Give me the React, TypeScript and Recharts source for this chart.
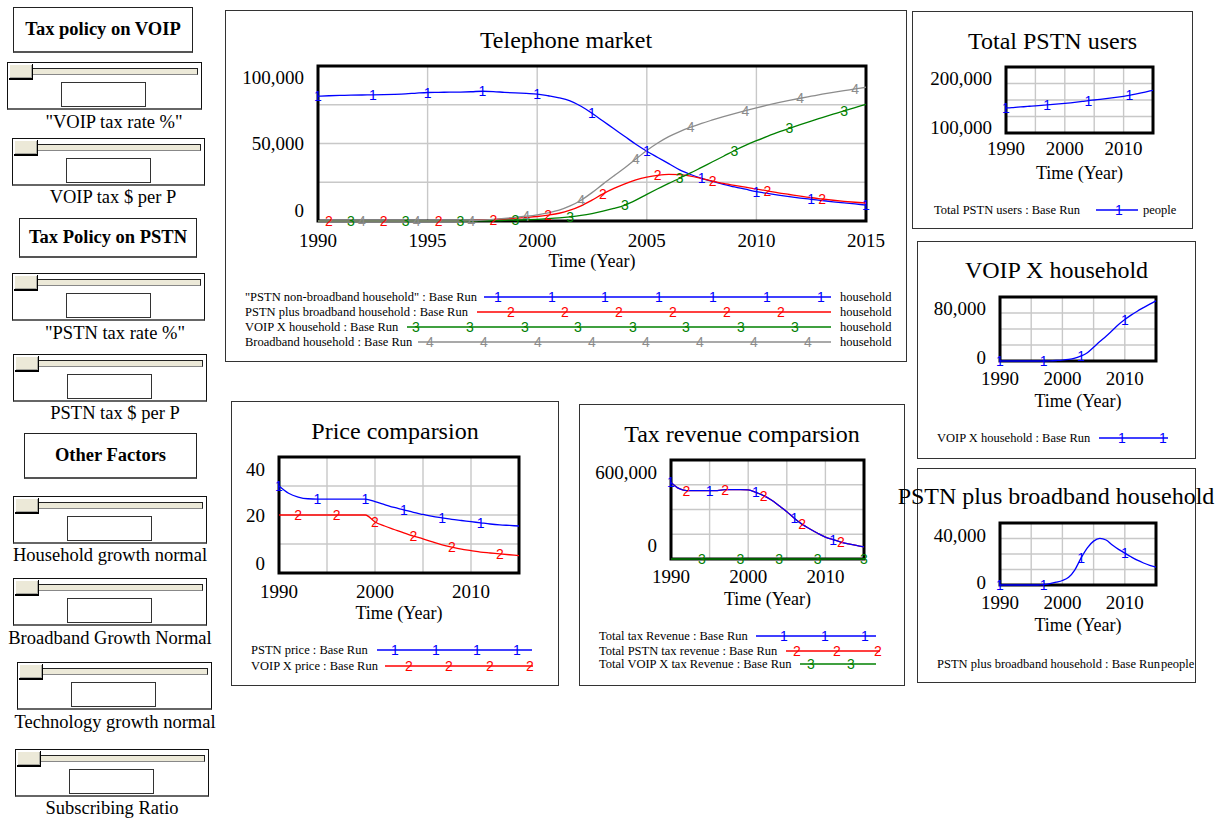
import React from "react";
import { CartesianGrid, Line, LineChart, ReferenceArea, XAxis, YAxis } from "recharts";

// time axes
const HALF_YEARS = [
  1990, 1990.5, 1991, 1991.5, 1992, 1992.5, 1993, 1993.5, 1994, 1994.5,
  1995, 1995.5, 1996, 1996.5, 1997, 1997.5, 1998, 1998.5, 1999, 1999.5,
  2000, 2000.5, 2001, 2001.5, 2002, 2002.5, 2003, 2003.5, 2004, 2004.5,
  2005, 2005.5, 2006, 2006.5, 2007, 2007.5, 2008, 2008.5, 2009, 2009.5,
  2010, 2010.5, 2011, 2011.5, 2012, 2012.5, 2013, 2013.5, 2014, 2014.5, 2015,
];
const YEARS = [
  1990, 1991, 1992, 1993, 1994, 1995, 1996, 1997, 1998, 1999, 2000, 2001, 2002,
  2003, 2004, 2005, 2006, 2007, 2008, 2009, 2010, 2011, 2012, 2013, 2014, 2015,
];

// Telephone market (half-year steps)
const PSTN_NON_BROADBAND = [
  80500, 80800, 81000, 81200, 81300, 81400, 81500, 81700, 82000, 82500,
  82900, 83000, 83100, 83200, 83400, 83700, 83500, 83000, 82600, 82300,
  81900, 80800, 79500, 77500, 74000, 69500, 64500, 59500, 54500, 49500,
  45000, 41000, 37000, 33000, 30000, 27500, 25500, 23700, 22000, 20500,
  19000, 17800, 16700, 15700, 14800, 14000, 13200, 12400, 11700, 11000, 10300,
];
const PSTN_PLUS_BROADBAND = [
  0, 0, 0, 0, 0, 0, 0, 0, 0, 0,
  0, 0, 0, 0, 200, 500, 900, 1300, 1800, 2300,
  2900, 3800, 5000, 7000, 9800, 13500, 17500, 21000, 24000, 26500,
  28300, 29500, 30100, 29900, 29000, 27400, 25800, 24300, 23000, 21800,
  20600, 19500, 18200, 17100, 16000, 15000, 14200, 13400, 12700, 12100, 11600,
];
const VOIP_HOUSEHOLD_HALF = [
  0, 0, 0, 0, 0, 0, 0, 0, 0, 0,
  0, 0, 0, 0, 0, 100, 200, 400, 600, 800,
  1100, 1500, 2000, 2700, 3600, 4800, 6300, 8100, 10300, 13500,
  17200, 20800, 24300, 27600, 31000, 34600, 38200, 41800, 45500, 48800,
  51800, 54600, 57300, 59800, 62200, 64500, 66700, 68900, 71100, 73200, 75300,
];
const BROADBAND_HOUSEHOLD = [
  0, 0, 0, 0, 0, 0, 0, 0, 0, 0,
  0, 0, 0, 0, 200, 600, 1100, 1700, 2400, 3100,
  4000, 5300, 7000, 9700, 13400, 18300, 23800, 29100, 34300, 40000,
  45500, 50300, 54400, 57700, 60500, 63000, 65200, 67300, 69300, 71200,
  73000, 74700, 76300, 77800, 79200, 80500, 81800, 83000, 84100, 85200, 86300,
];

// Price comparsion (yearly)
const PSTN_PRICE = [
  30, 27.5, 26.2, 25.6, 25.5, 25.5, 25.5, 25.5, 25.5, 25.5, 24.6, 23.6, 22.6,
  21.8, 20.9, 20.2, 19.5, 19.0, 18.5, 18.1, 17.7, 17.3, 16.9, 16.6, 16.4, 16.2,
];
const VOIP_PRICE = [
  20, 20, 20, 20, 20, 20, 20, 20, 20, 20, 17.6, 16.2, 15.0,
  13.8, 12.7, 11.8, 10.7, 9.7, 8.9, 8.2, 7.7, 7.2, 6.9, 6.6, 6.3, 6.0,
];

// Tax revenue comparsion (yearly)
const TOTAL_TAX = [
  464000, 428000, 415000, 414000, 414000, 414000, 415000, 420000, 420000,
  420000, 419000, 404000, 384000, 358000, 323000, 287000, 246000, 210000,
  182000, 156000, 133000, 117000, 103000, 92000, 82000, 73000,
];
const PSTN_TAX = [
  464000, 428000, 415000, 414000, 414000, 414000, 415000, 420000, 420000,
  420000, 419000, 404000, 384000, 358000, 323000, 287000, 246000, 210000,
  182000, 156000, 133000, 117000, 103000, 92000, 82000, 73000,
];
const VOIP_TAX = [
  0, 0, 0, 0, 0, 0, 0, 0, 0, 0, 0, 0, 0, 0, 0, 0, 0, 0, 0, 0, 0, 0, 0, 0, 0, 0,
];

// small charts (yearly)
const TOTAL_PSTN_USERS = [
  138000, 138500, 139200, 139800, 140500, 141200, 141800, 142500, 143300,
  144000, 144800, 145700, 146700, 147800, 149000, 150000, 151000, 152000,
  153100, 154300, 155600, 157000, 158800, 160700, 162700, 164700,
];
const VOIP_HOUSEHOLD = [
  0, 0, 0, 0, 0, 0, 0, 0, 200, 600, 1100, 2000, 3600, 6300, 10300, 17200,
  24300, 31000, 38200, 45500, 51800, 57300, 62200, 66700, 71100, 75300,
];
const PSTN_PLUS_BB = [
  0, 0, 0, 0, 0, 0, 0, 200, 900, 1800, 2900, 5000, 9800, 17500, 24000, 28300,
  30100, 29000, 25800, 23000, 20600, 18200, 16000, 14200, 12700, 11600,
];

const marketData = HALF_YEARS.map((year, i) => ({
  year,
  nonBb: PSTN_NON_BROADBAND[i],
  plusBb: PSTN_PLUS_BROADBAND[i],
  voip: VOIP_HOUSEHOLD_HALF[i],
  bb: BROADBAND_HOUSEHOLD[i],
}));
const yearlyData = YEARS.map((year, i) => ({
  year,
  pstnPrice: PSTN_PRICE[i],
  voipPrice: VOIP_PRICE[i],
  totalTax: TOTAL_TAX[i],
  pstnTax: PSTN_TAX[i],
  voipTax: VOIP_TAX[i],
  users: TOTAL_PSTN_USERS[i],
  voipHh: VOIP_HOUSEHOLD[i],
  plusBb: PSTN_PLUS_BB[i],
}));

const SERIF = '"Liberation Serif", "Times New Roman", serif';
const SANS = '"Liberation Sans", Arial, sans-serif';
const BLUE = "#0000ff";
const RED = "#ff0000";
const GREEN = "#008000";
const GRAY = "#8c8c8c";
const MARK_SIZE = 14;
const LEGEND_SIZE = 12.5;

const PAD_L = 110;
const PAD_T = 20;
const PAD_R = 30;
const PAD_B = 60;

type Rect = { x: number; y: number; w: number; h: number };
type Series = { key: string; color: string; digit: string; marks: number[] };

function PlotChart(props: {
  plot: Rect;
  data: any[];
  series: Series[];
  yDomain: [number, number];
  yGrid: number[];
  yLabels: number[];
  xLabels: number[];
  topDy: number;
  botDy: number;
  xDy: number;
}) {
  const { plot, data, series, yDomain, yGrid, yLabels, xLabels, topDy, botDy, xDy } = props;
  const bottom = PAD_T + plot.h;

  const yTick = (t: any) => {
    const v = t.payload.value;
    if (!yLabels.includes(v)) return <g />;
    let y = t.y;
    if (v === yDomain[1]) y += topDy;
    else if (v === yDomain[0]) y += botDy;
    return (
      <text x={PAD_L - 14} y={y} dy="0.35em" textAnchor="end" fontSize={19} fontFamily={SERIF} fill="#000">
        {v.toLocaleString("en-US")}
      </text>
    );
  };
  const xTick = (t: any) => {
    const v = t.payload.value;
    if (!xLabels.includes(v)) return <g />;
    return (
      <text x={t.x} y={bottom + xDy} dy="0.35em" textAnchor="middle" fontSize={19} fontFamily={SERIF} fill="#000">
        {v}
      </text>
    );
  };
  const makeDot = (s: Series) => (d: any) => {
    if (!s.marks.includes(d.index) || d.cx == null) return <g key={`d${d.index}`} />;
    return (
      <text key={`d${d.index}`} x={d.cx} y={d.cy} dy="0.36em" textAnchor="middle" fontSize={MARK_SIZE} fontFamily={SANS} fill={s.color}>
        {s.digit}
      </text>
    );
  };

  return (
    <div style={{ position: "absolute", left: plot.x - PAD_L, top: plot.y - PAD_T }}>
      <LineChart
        width={plot.w + PAD_L + PAD_R}
        height={plot.h + PAD_T + PAD_B}
        data={data}
        margin={{ top: PAD_T, right: PAD_R, left: 0, bottom: 0 }}
      >
        <CartesianGrid stroke="#c8c8c8" strokeWidth={1.4} />
        <XAxis
          type="number"
          dataKey="year"
          domain={[1990, 2015]}
          ticks={[1990, 1995, 2000, 2005, 2010, 2015]}
          interval={0}
          axisLine={false}
          tickLine={false}
          height={PAD_B}
          tick={xTick}
          label={{
            content: () => (
              <text x={PAD_L + plot.w / 2} y={bottom + 40} dy="0.35em" textAnchor="middle" fontSize={18} fontFamily={SERIF} fill="#000">
                Time (Year)
              </text>
            ),
          }}
        />
        <YAxis
          type="number"
          domain={yDomain}
          ticks={yGrid}
          interval={0}
          width={PAD_L}
          axisLine={false}
          tickLine={false}
          tick={yTick}
        />
        {series.map((s) => (
          <Line
            key={s.key}
            type="monotone"
            dataKey={s.key}
            stroke={s.color}
            strokeWidth={1.3}
            dot={makeDot(s)}
            activeDot={false}
            isAnimationActive={false}
          />
        ))}
        <ReferenceArea x1={1990} x2={2015} y1={yDomain[0]} y2={yDomain[1]} fill="none" stroke="#000" strokeWidth={3} />
      </LineChart>
    </div>
  );
}

type Box = { left: number; top: number; width: number; height: number };

function Panel({ box, title, titleY }: { box: Box; title?: string; titleY: number }) {
  return (
    <div
      style={{
        position: "absolute",
        left: box.left,
        top: box.top,
        width: box.width,
        height: box.height,
        border: "1px solid #333",
        boxSizing: "border-box",
      }}
    >
      {title && (
        <div
          style={{
            position: "absolute",
            left: 0,
            top: titleY - box.top - 14,
            width: "100%",
            textAlign: "center",
            fontSize: 24,
            lineHeight: "26px",
            whiteSpace: "nowrap",
          }}
        >
          {title}
        </div>
      )}
    </div>
  );
}

type LegendRow = {
  label: string;
  color: string;
  digit: string;
  y: number;
  textX: number;
  x1?: number;
  x2?: number;
  marks?: number[];
  unit?: string;
  unitX?: number;
};

const LEGEND_ROWS: LegendRow[] = [
  { label: '"PSTN non-broadband household" : Base Run', color: BLUE, digit: "1", y: 297, textX: 245, x1: 484, x2: 831, marks: [498, 552, 605, 659, 713, 767, 821], unit: "household", unitX: 840 },
  { label: "PSTN plus broadband household : Base Run", color: RED, digit: "2", y: 312, textX: 245, x1: 477, x2: 831, marks: [511, 565, 619, 673, 727, 781], unit: "household", unitX: 840 },
  { label: "VOIP X household : Base Run", color: GREEN, digit: "3", y: 327, textX: 245, x1: 407, x2: 831, marks: [416, 470, 525, 578, 633, 686, 741, 795], unit: "household", unitX: 840 },
  { label: "Broadband household : Base Run", color: GRAY, digit: "4", y: 342, textX: 245, x1: 418, x2: 831, marks: [430, 484, 538, 592, 646, 700, 754, 808], unit: "household", unitX: 840 },
  { label: "PSTN price : Base Run", color: BLUE, digit: "1", y: 650, textX: 251, x1: 377, x2: 532, marks: [395, 436, 477, 517] },
  { label: "VOIP X price : Base Run", color: RED, digit: "2", y: 666, textX: 251, x1: 385, x2: 533, marks: [409, 449, 490, 530] },
  { label: "Total tax Revenue : Base Run", color: BLUE, digit: "1", y: 636, textX: 599, x1: 756, x2: 876, marks: [784, 825, 865] },
  { label: "Total PSTN tax revenue : Base Run", color: RED, digit: "2", y: 651, textX: 599, x1: 786, x2: 880, marks: [797, 837, 878] },
  { label: "Total VOIP X tax Revenue : Base Run", color: GREEN, digit: "3", y: 664, textX: 599, x1: 800, x2: 876, marks: [811, 851] },
  { label: "Total PSTN users : Base Run", color: BLUE, digit: "1", y: 210, textX: 934, x1: 1096, x2: 1138, marks: [1119], unit: "people", unitX: 1143 },
  { label: "VOIP X household : Base Run", color: BLUE, digit: "1", y: 438, textX: 937, x1: 1099, x2: 1168, marks: [1122, 1163] },
  { label: "PSTN plus broadband household : Base Run", color: BLUE, digit: "1", y: 664, textX: 937, unit: "people", unitX: 1161 },
];

function Legends() {
  return (
    <svg style={{ position: "absolute", left: 0, top: 0, pointerEvents: "none" }} width={1219} height={820}>
      {LEGEND_ROWS.map((r, i) => (
        <g key={i}>
          <text x={r.textX} y={r.y} dy="0.35em" fontSize={LEGEND_SIZE} fontFamily={SERIF} fill="#000">
            {r.label}
          </text>
          {r.x1 != null && <line x1={r.x1} x2={r.x2} y1={r.y} y2={r.y} stroke={r.color} strokeWidth={1.3} />}
          {(r.marks || []).map((m) => (
            <text key={m} x={m} y={r.y} dy="0.36em" textAnchor="middle" fontSize={MARK_SIZE} fontFamily={SANS} fill={r.color}>
              {r.digit}
            </text>
          ))}
          {r.unit && (
            <text x={r.unitX} y={r.y} dy="0.35em" fontSize={LEGEND_SIZE} fontFamily={SERIF} fill="#000">
              {r.unit}
            </text>
          )}
        </g>
      ))}
    </svg>
  );
}

const BEIGE = "#ece9d8";

function Slider({ x, y, w, label, lx, ly }: { x: number; y: number; w: number; label: string; lx: number; ly: number }) {
  return (
    <>
      <div style={{ position: "absolute", left: x, top: y, width: w, height: 48, border: "1px solid #111", borderBottom: "2px solid #666", boxSizing: "border-box" }} />
      <div style={{ position: "absolute", left: x + 2, top: y + 6, width: w - 6, height: 7, background: BEIGE, border: "1px solid #222", borderBottomColor: "#888", boxSizing: "border-box" }} />
      <div
        style={{
          position: "absolute",
          left: x + 2,
          top: y + 2,
          width: 24,
          height: 16,
          background: BEIGE,
          borderRight: "1px solid #000",
          borderBottom: "2px solid #000",
          boxShadow: "inset 1px 1px 0 #fff, inset -1px -1px 0 #a8a8a0",
          boxSizing: "border-box",
        }}
      />
      <div style={{ position: "absolute", left: x + 54, top: y + 20, width: 85, height: 25, background: "#fff", border: "1px solid #333", boxSizing: "border-box" }} />
      <div style={{ position: "absolute", left: lx - 150, top: ly - 11, width: 300, textAlign: "center", fontSize: 18.5, lineHeight: "22px", whiteSpace: "nowrap" }}>
        {label}
      </div>
    </>
  );
}

function Header({ x, y, w, h, text }: { x: number; y: number; w: number; h: number; text: string }) {
  return (
    <div
      style={{
        position: "absolute",
        left: x,
        top: y,
        width: w,
        height: h,
        border: "1px solid #222",
        borderBottom: "2px solid #555",
        boxSizing: "border-box",
        display: "flex",
        alignItems: "center",
        justifyContent: "center",
        fontWeight: "bold",
        fontSize: 18.5,
        whiteSpace: "nowrap",
      }}
    >
      {text}
    </div>
  );
}

const SLIDERS = [
  { x: 7, y: 62, w: 195, label: '"VOIP tax rate %"', lx: 114, ly: 122 },
  { x: 12, y: 138, w: 193, label: "VOIP tax $ per P", lx: 113, ly: 197 },
  { x: 12, y: 273, w: 193, label: '"PSTN tax rate %"', lx: 115, ly: 333 },
  { x: 13, y: 354, w: 194, label: "PSTN tax $ per P", lx: 115, ly: 413 },
  { x: 13, y: 496, w: 194, label: "Household growth normal", lx: 110, ly: 555 },
  { x: 13, y: 578, w: 194, label: "Broadband Growth Normal", lx: 110, ly: 638 },
  { x: 17, y: 662, w: 195, label: "Technology growth normal", lx: 115, ly: 722 },
  { x: 15, y: 749, w: 194, label: "Subscribing Ratio", lx: 112, ly: 808 },
];

export default function App() {
  return (
    <div
      style={{
        position: "absolute",
        left: 0,
        top: 0,
        width: 1219,
        height: 820,
        overflow: "hidden",
        background: "#fff",
        fontFamily: SERIF,
        color: "#000",
      }}
    >
      <Header x={13} y={7} w={180} h={46} text="Tax policy on VOIP" />
      <Header x={19} y={218} w={178} h={40} text="Tax Policy on PSTN" />
      <Header x={24} y={433} w={173} h={46} text="Other Factors" />
      {SLIDERS.map((s, i) => (
        <Slider key={i} {...s} />
      ))}

      <Panel box={{ left: 225, top: 10, width: 682, height: 352 }} title="Telephone market" titleY={40} />
      <Panel box={{ left: 231, top: 401, width: 328, height: 285 }} title="Price comparsion" titleY={431} />
      <Panel box={{ left: 579, top: 404, width: 326, height: 282 }} title="Tax revenue comparsion" titleY={434} />
      <Panel box={{ left: 912, top: 11, width: 281, height: 218 }} title="Total PSTN users" titleY={41} />
      <Panel box={{ left: 917, top: 241, width: 279, height: 218 }} title="VOIP X household" titleY={270} />
      <Panel box={{ left: 917, top: 468, width: 279, height: 215 }} titleY={497} />

      <PlotChart
        plot={{ x: 318, y: 66, w: 548, h: 155 }}
        data={marketData}
        series={[
          { key: "nonBb", color: BLUE, digit: "1", marks: [0, 5, 10, 15, 20, 25, 30, 35, 40, 45, 50] },
          { key: "plusBb", color: RED, digit: "2", marks: [1, 6, 11, 16, 21, 26, 31, 36, 41, 46] },
          { key: "voip", color: GREEN, digit: "3", marks: [3, 8, 13, 18, 23, 28, 33, 38, 43, 48] },
          { key: "bb", color: GRAY, digit: "4", marks: [4, 9, 14, 19, 24, 29, 34, 39, 44, 49] },
        ]}
        yDomain={[0, 100000]}
        yGrid={[0, 25000, 50000, 75000, 100000]}
        yLabels={[0, 50000, 100000]}
        xLabels={[1990, 1995, 2000, 2005, 2010, 2015]}
        topDy={11}
        botDy={-11}
        xDy={19}
      />
      <PlotChart
        plot={{ x: 279, y: 457, w: 240, h: 116 }}
        data={yearlyData}
        series={[
          { key: "pstnPrice", color: BLUE, digit: "1", marks: [0, 4, 9, 13, 17, 21] },
          { key: "voipPrice", color: RED, digit: "2", marks: [2, 6, 10, 14, 18, 23] },
        ]}
        yDomain={[0, 40]}
        yGrid={[0, 10, 20, 30, 40]}
        yLabels={[0, 20, 40]}
        xLabels={[1990, 2000, 2010]}
        topDy={12}
        botDy={-10}
        xDy={18}
      />
      <PlotChart
        plot={{ x: 671, y: 460, w: 193, h: 99 }}
        data={yearlyData}
        series={[
          { key: "pstnTax", color: RED, digit: "2", marks: [2, 7, 12, 17, 22] },
          { key: "totalTax", color: BLUE, digit: "1", marks: [0, 5, 11, 16, 21] },
          { key: "voipTax", color: GREEN, digit: "3", marks: [4, 9, 14, 19, 25] },
        ]}
        yDomain={[0, 600000]}
        yGrid={[0, 150000, 300000, 450000, 600000]}
        yLabels={[0, 600000]}
        xLabels={[1990, 2000, 2010]}
        topDy={12}
        botDy={-14}
        xDy={17}
      />
      <PlotChart
        plot={{ x: 1006, y: 67, w: 147, h: 66 }}
        data={yearlyData}
        series={[{ key: "users", color: BLUE, digit: "1", marks: [0, 7, 14, 21] }]}
        yDomain={[100000, 200000]}
        yGrid={[100000, 125000, 150000, 175000, 200000]}
        yLabels={[100000, 200000]}
        xLabels={[1990, 2000, 2010]}
        topDy={11}
        botDy={-6}
        xDy={15}
      />
      <PlotChart
        plot={{ x: 1000, y: 297, w: 156, h: 64 }}
        data={yearlyData}
        series={[{ key: "voipHh", color: BLUE, digit: "1", marks: [0, 7, 13, 20] }]}
        yDomain={[0, 80000]}
        yGrid={[0, 20000, 40000, 60000, 80000]}
        yLabels={[0, 80000]}
        xLabels={[1990, 2000, 2010]}
        topDy={11}
        botDy={-4}
        xDy={17}
      />
      <PlotChart
        plot={{ x: 1000, y: 523, w: 156, h: 62 }}
        data={yearlyData}
        series={[{ key: "plusBb", color: BLUE, digit: "1", marks: [0, 7, 13, 20] }]}
        yDomain={[0, 40000]}
        yGrid={[0, 10000, 20000, 30000, 40000]}
        yLabels={[0, 40000]}
        xLabels={[1990, 2000, 2010]}
        topDy={12}
        botDy={-3}
        xDy={17}
      />

      <div style={{ position: "absolute", left: 1056 - 200, top: 483, width: 400, textAlign: "center", fontSize: 24, lineHeight: "26px", whiteSpace: "nowrap" }}>
        PSTN plus broadband household
      </div>

      <Legends />
    </div>
  );
}
